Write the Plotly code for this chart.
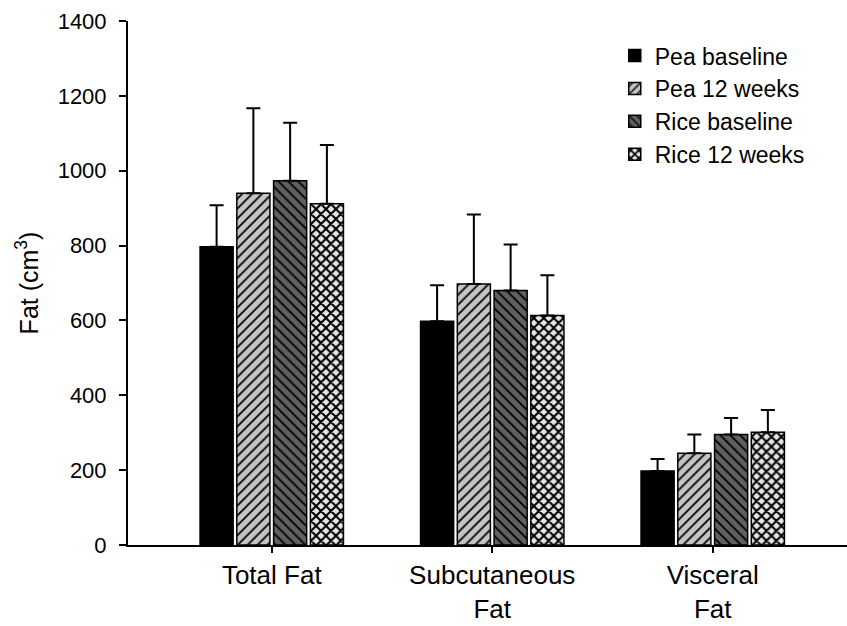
import plotly.graph_objects as go

# Fat compartments measured at baseline and after 12 weeks
categories = ["Total Fat", "Subcutaneous<br>Fat", "Visceral<br>Fat"]

pea_baseline = [797, 598, 198]
pea_baseline_sd = [111, 96, 32]

pea_12_weeks = [940, 697, 245]
pea_12_weeks_sd = [227, 186, 50]

rice_baseline = [973, 680, 295]
rice_baseline_sd = [155, 123, 44]

rice_12_weeks = [912, 613, 301]
rice_12_weeks_sd = [157, 108, 60]

series = [
    ("Pea baseline", pea_baseline, pea_baseline_sd,
     dict(color="black", pattern=dict(shape=""))),
    ("Pea 12 weeks", pea_12_weeks, pea_12_weeks_sd,
     dict(color="#c4c4c4", pattern=dict(shape="/", fgcolor="black", bgcolor="#c4c4c4",
                                        size=7, solidity=0.25, fillmode="replace"))),
    ("Rice baseline", rice_baseline, rice_baseline_sd,
     dict(color="#606060", pattern=dict(shape="\\", fgcolor="black", bgcolor="#606060",
                                        size=7, solidity=0.25, fillmode="replace"))),
    ("Rice 12 weeks", rice_12_weeks, rice_12_weeks_sd,
     dict(color="#e6e6e6", pattern=dict(shape="x", fgcolor="black", bgcolor="#e6e6e6",
                                        size=7, solidity=0.5, fillmode="replace"))),
]

fig = go.Figure()
for name, vals, sd, marker in series:
    fig.add_trace(go.Bar(
        name=name,
        x=categories,
        y=vals,
        marker=dict(**marker, line=dict(color="black", width=1.5)),
        error_y=dict(type="data", array=sd, arrayminus=[0] * len(sd), symmetric=False,
                     color="black", thickness=2, width=7),
    ))

font_family = "Liberation Sans, Arial, sans-serif"

fig.update_layout(
    width=847,
    height=626,
    margin=dict(l=128, r=0, t=21, b=81),
    paper_bgcolor="white",
    plot_bgcolor="white",
    barmode="group",
    bargap=0.333,
    bargroupgap=0.1,
    font=dict(family=font_family, color="black"),
    legend=dict(
        x=0.677, y=0.975, xanchor="left", yanchor="top",
        font=dict(size=23, family=font_family, color="black"),
        bgcolor="rgba(0,0,0,0)",
        tracegroupgap=0,
    ),
    xaxis=dict(
        range=[-0.652, 2.609],
        showline=True, linecolor="black", linewidth=2,
        ticks="outside", ticklen=6, tickwidth=1.5, tickcolor="black",
        tickfont=dict(size=26),
        showgrid=False, zeroline=False,
    ),
    yaxis=dict(
        range=[0, 1400], dtick=200,
        showline=True, linecolor="black", linewidth=2,
        ticks="outside", ticklen=7, tickwidth=1.5, tickcolor="black",
        tickfont=dict(size=22),
        ticklabelstandoff=8,
        showgrid=False, zeroline=False,
        title=dict(text="Fat (cm<sup>3</sup>)", font=dict(size=25), standoff=12),
    ),
)

fig.write_html("out.html")
